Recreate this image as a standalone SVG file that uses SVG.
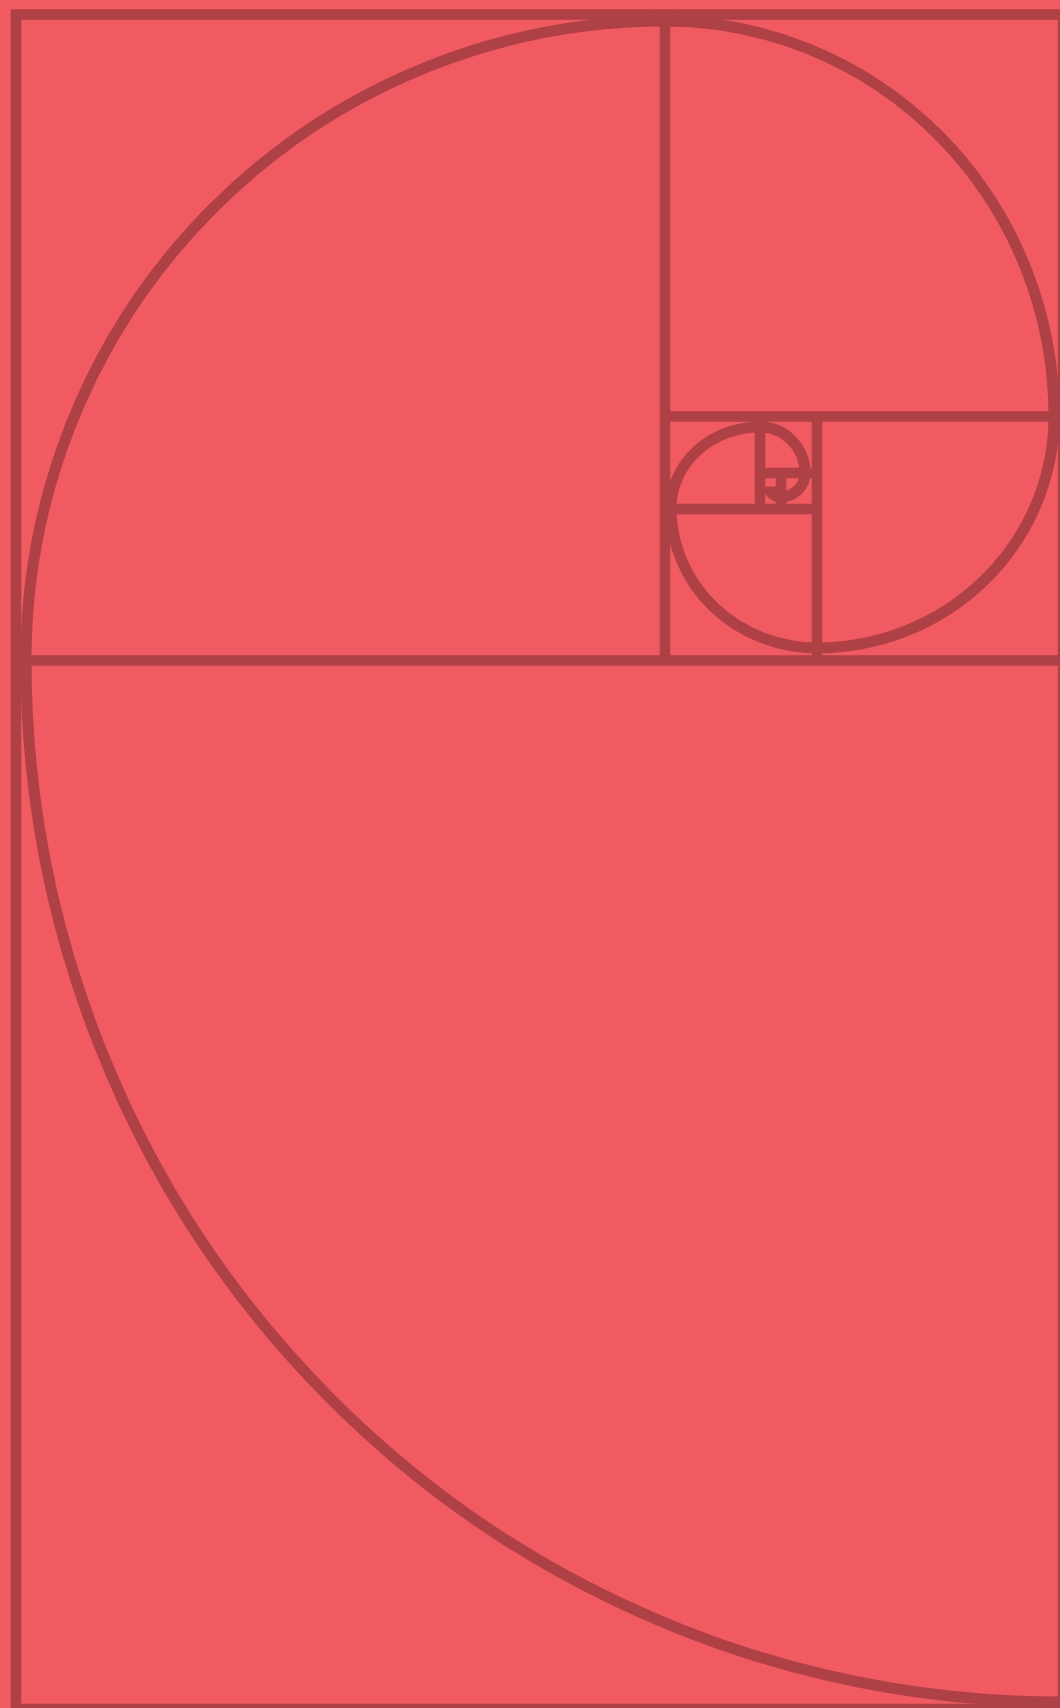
<svg xmlns="http://www.w3.org/2000/svg" width="1060" height="1708" viewBox="0 0 1060 1708">
<style>
.ln{stroke:#AE4146;stroke-width:10.5;fill:none}
.sp{stroke:#AE4146;stroke-width:11;fill:none}
</style>
<rect x="0" y="0" width="1060" height="1708" fill="#F05A60"/>
<g id="frame">
<rect class="ln" x="16" y="14.5" width="1047" height="1694.5"/>
</g>
<g id="grid">
<line class="ln" x1="665" y1="14" x2="665" y2="660"/>
<line class="ln" x1="28" y1="660.5" x2="1060" y2="660.5"/>
<line class="ln" x1="665" y1="416.5" x2="1058" y2="416.5"/>
<line class="ln" x1="817" y1="416" x2="817" y2="660"/>
<line class="ln" x1="665" y1="509" x2="817" y2="509"/>
<line class="ln" x1="760" y1="416" x2="760" y2="509"/>
<line class="ln" x1="760" y1="473" x2="817" y2="473"/>
<line class="ln" x1="781" y1="473" x2="781" y2="509"/>
<line class="ln" style="stroke-width:7" x1="760" y1="490" x2="781" y2="490"/>
</g>
<g id="spiral">
<path class="sp" d="M 1060 1702 A 1034 1042 0 0 1 26 660 A 639 639 0 0 1 665 21 A 389 395 0 0 1 1054 416 A 237 232 0 0 1 817 648 A 146 140 0 0 1 671 508 A 89 81 0 0 1 760 427 A 45 46 0 0 1 805 473 A 24 24 0 0 1 781 497 A 12 10 0 0 1 769 487"/>
</g>
</svg>
